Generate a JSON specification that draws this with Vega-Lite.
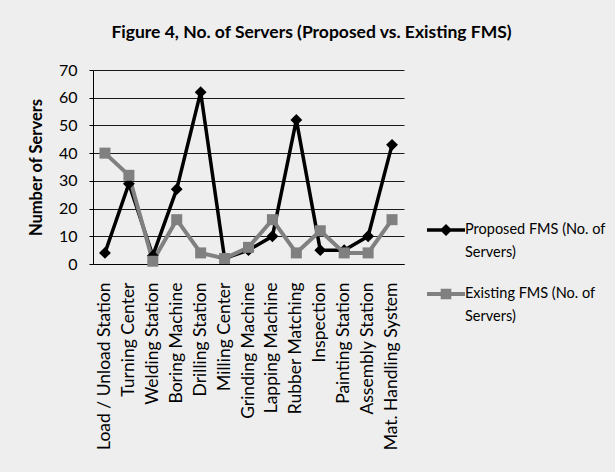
{
  "$schema": "https://vega.github.io/schema/vega-lite/v6.json",
  "width": 311,
  "height": 194,
  "autosize": "none",
  "padding": {"left": 93, "top": 70, "right": 211, "bottom": 208},
  "background": "#eeeeee",
  "title": {
    "text": "Figure 4, No. of Servers  (Proposed vs. Existing FMS)",
    "font": "Lato",
    "fontSize": 17.5,
    "fontWeight": "bold",
    "color": "#000000",
    "anchor": "middle",
    "dx": 63,
    "offset": 21
  },
  "data": {
    "values": [
      {"station": "Load / Unload Station", "series": "Proposed FMS (No. of Servers)", "value": 4},
      {"station": "Turning Center", "series": "Proposed FMS (No. of Servers)", "value": 29},
      {"station": "Welding Station", "series": "Proposed FMS (No. of Servers)", "value": 3},
      {"station": "Boring Machine", "series": "Proposed FMS (No. of Servers)", "value": 27},
      {"station": "Drilling Station", "series": "Proposed FMS (No. of Servers)", "value": 62},
      {"station": "Milling Center", "series": "Proposed FMS (No. of Servers)", "value": 2},
      {"station": "Grinding Machine", "series": "Proposed FMS (No. of Servers)", "value": 5},
      {"station": "Lapping Machine", "series": "Proposed FMS (No. of Servers)", "value": 10},
      {"station": "Rubber Matching", "series": "Proposed FMS (No. of Servers)", "value": 52},
      {"station": "Inspection", "series": "Proposed FMS (No. of Servers)", "value": 5},
      {"station": "Painting Station", "series": "Proposed FMS (No. of Servers)", "value": 5},
      {"station": "Assembly Station", "series": "Proposed FMS (No. of Servers)", "value": 10},
      {"station": "Mat. Handling System", "series": "Proposed FMS (No. of Servers)", "value": 43},
      {"station": "Load / Unload Station", "series": "Existing FMS (No. of Servers)", "value": 40},
      {"station": "Turning Center", "series": "Existing FMS (No. of Servers)", "value": 32},
      {"station": "Welding Station", "series": "Existing FMS (No. of Servers)", "value": 1},
      {"station": "Boring Machine", "series": "Existing FMS (No. of Servers)", "value": 16},
      {"station": "Drilling Station", "series": "Existing FMS (No. of Servers)", "value": 4},
      {"station": "Milling Center", "series": "Existing FMS (No. of Servers)", "value": 2},
      {"station": "Grinding Machine", "series": "Existing FMS (No. of Servers)", "value": 6},
      {"station": "Lapping Machine", "series": "Existing FMS (No. of Servers)", "value": 16},
      {"station": "Rubber Matching", "series": "Existing FMS (No. of Servers)", "value": 4},
      {"station": "Inspection", "series": "Existing FMS (No. of Servers)", "value": 12},
      {"station": "Painting Station", "series": "Existing FMS (No. of Servers)", "value": 4},
      {"station": "Assembly Station", "series": "Existing FMS (No. of Servers)", "value": 4},
      {"station": "Mat. Handling System", "series": "Existing FMS (No. of Servers)", "value": 16}
    ]
  },
  "encoding": {
    "x": {
      "field": "station",
      "type": "nominal",
      "sort": null,
      "scale": {"type": "band", "paddingInner": 0, "paddingOuter": 0},
      "axis": {
        "title": null,
        "labelAngle": -90,
        "labelFont": "Lato",
        "labelFontSize": 17.5,
        "labelColor": "#000000",
        "labelPadding": 18,
        "labelLimit": 300,
        "ticks": false,
        "grid": false,
        "domain": true,
        "domainColor": "#000000",
        "domainWidth": 1
      }
    },
    "y": {
      "field": "value",
      "type": "quantitative",
      "scale": {"domain": [0, 70], "nice": false},
      "axis": {
        "title": "Number of Servers",
        "titleFont": "Lato",
        "titleFontSize": 16.5,
        "titleFontWeight": "bold",
        "titleColor": "#000000",
        "titlePadding": 14,
        "values": [0, 10, 20, 30, 40, 50, 60, 70],
        "labelFont": "Lato",
        "labelFontSize": 16,
        "labelColor": "#000000",
        "labelPadding": 12,
        "tickSize": 4,
        "tickColor": "#000000",
        "domain": true,
        "domainColor": "#000000",
        "grid": true,
        "gridColor": "#1a1a1a",
        "gridWidth": 1
      }
    },
    "color": {
      "field": "series",
      "type": "nominal",
      "scale": {
        "domain": ["Proposed FMS (No. of Servers)", "Existing FMS (No. of Servers)"],
        "range": ["#000000", "#808080"]
      },
      "legend": null
    }
  },
  "layer": [
    {
      "transform": [{"filter": "datum.series === 'Proposed FMS (No. of Servers)'"}],
      "mark": {"type": "line", "strokeWidth": 3.5},
      "encoding": {
        "color": {
          "field": "series",
          "type": "nominal",
          "scale": {
            "domain": ["Proposed FMS (No. of Servers)", "Existing FMS (No. of Servers)"],
            "range": ["#000000", "#808080"]
          },
          "legend": {
            "title": null,
            "orient": "none",
            "legendX": 334,
            "legendY": 141,
            "padding": 0,
            "labelFont": "Lato",
            "labelFontSize": 14.5,
            "labelColor": "#000000",
            "labelLimit": 300,
            "labelOffset": 0,
            "rowPadding": 15,
            "symbolSize": 1444,
            "labelExpr": "[substring(datum.label, 0, 20), substring(datum.label, 21)]",
            "encode": {
              "symbols": {
                "update": {
                  "shape": {"signal": "datum.value === 'Proposed FMS (No. of Servers)' ? 'M-1,-0.09H1V0.09H-1Z M0,-0.32L0.32,0L0,0.32L-0.32,0Z' : 'M-1,-0.11H1V0.11H-1Z M-0.28,-0.28H0.28V0.28H-0.28Z'"},
                  "fill": {"signal": "datum.value === 'Proposed FMS (No. of Servers)' ? '#000000' : '#808080'"},
                  "stroke": {"value": "transparent"},
                  "strokeWidth": {"value": 0},
                  "opacity": {"value": 1}
                }
              },
              "labels": {
                "update": {
                  "lineHeight": {"value": 23}
                }
              }
            }
          }
        }
      }
    },
    {
      "transform": [{"filter": "datum.series === 'Existing FMS (No. of Servers)'"}],
      "mark": {"type": "line", "strokeWidth": 4},
      "encoding": {}
    },
    {
      "transform": [{"filter": "datum.series === 'Proposed FMS (No. of Servers)'"}],
      "mark": {"type": "point", "shape": "diamond", "filled": true, "size": 140, "opacity": 1},
      "encoding": {}
    },
    {
      "transform": [{"filter": "datum.series === 'Existing FMS (No. of Servers)'"}],
      "mark": {"type": "point", "shape": "square", "filled": true, "size": 121, "opacity": 1},
      "encoding": {}
    }
  ],
  "config": {
    "view": {"stroke": null}
  }
}
